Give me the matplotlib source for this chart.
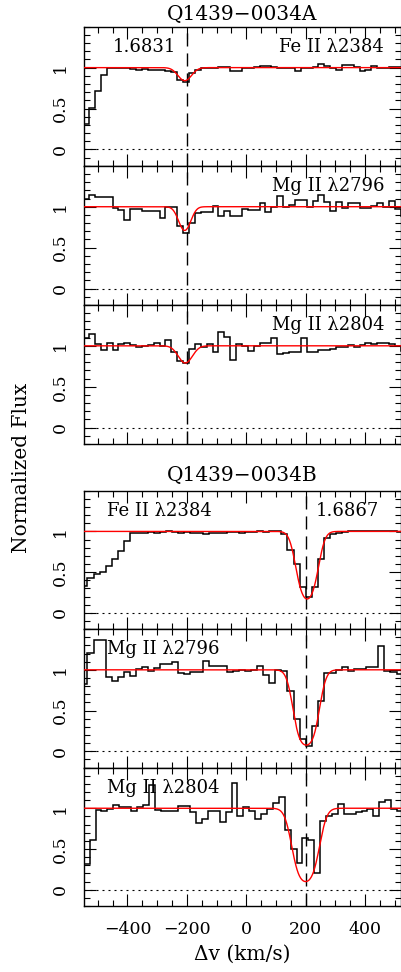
import numpy as np
import matplotlib
matplotlib.use("Agg")
import matplotlib.pyplot as plt
from matplotlib.ticker import MultipleLocator, FixedLocator, FixedFormatter

plt.rcParams['font.family'] = ['DejaVu Serif']

# ---------------------------------------------------------------------------
# Spectra: velocity pixel edges (km/s) and normalized flux per pixel
# ---------------------------------------------------------------------------
vel_edges_a = [-549.0, -529.2, -509.4, -489.6, -469.8, -450.0, -430.2, -410.4,
               -390.6, -370.8, -351.0, -331.2, -311.4, -291.6, -271.8, -252.0,
               -232.2, -212.4, -192.6, -172.8, -153.0, -133.2, -113.4, -93.6,
               -73.8, -54.0, -34.2, -14.4, 5.4, 25.2, 45.0, 64.8, 84.6, 104.4,
               124.2, 144.0, 163.8, 183.6, 203.4, 223.2, 243.0, 262.8, 282.6,
               302.4, 322.2, 342.0, 361.8, 381.6, 401.4, 421.2, 441.0, 460.8,
               480.6, 500.4, 520.2, 540.0]

vel_edges_b = [-554.8, -534.4, -514.0, -493.6, -473.2, -452.8, -432.4, -412.0,
               -391.6, -371.2, -350.8, -330.4, -310.0, -289.6, -269.2, -248.8,
               -228.4, -208.0, -187.6, -167.2, -146.8, -126.4, -106.0, -85.6,
               -65.2, -44.8, -24.4, -4.0, 16.4, 36.8, 57.2, 77.6, 98.0, 118.4,
               138.8, 159.2, 179.6, 200.0, 220.4, 240.8, 261.2, 281.6, 302.0,
               322.4, 342.8, 363.2, 383.6, 404.0, 424.4, 444.8, 465.2, 485.6,
               506.0, 526.4]

vel_edges_b_mg2804 = [-550.0, -527.1, -507.2, -487.3, -467.4, -447.5, -427.6,
                      -407.7, -387.8, -367.9, -348.0, -328.1, -308.2, -288.3,
                      -268.4, -248.5, -228.6, -208.7, -188.8, -168.9, -149.0,
                      -129.1, -109.2, -89.3, -69.4, -49.5, -29.6, -9.7, 10.2,
                      30.1, 50.0, 69.9, 89.8, 109.7, 129.6, 149.5, 169.4, 189.3,
                      209.2, 229.1, 249.0, 268.9, 288.8, 308.7, 328.6, 348.5,
                      368.4, 388.3, 408.2, 428.1, 448.0, 467.9, 487.8, 507.7,
                      527.6]

flux_a_fe2384 = [0.31, 0.51, 0.72, 0.91, 0.99, 0.99, 1.00, 0.99, 0.98, 0.97,
                 0.98, 0.97, 0.97, 0.97, 0.96, 0.95, 0.85, 0.83, 0.93, 0.97,
                 0.99, 1.00, 1.00, 1.01, 1.01, 0.96, 0.96, 1.00, 1.00, 1.01,
                 1.02, 1.02, 1.01, 1.00, 1.00, 0.99, 0.96, 0.99, 1.00, 1.01,
                 1.04, 1.02, 0.99, 0.97, 1.03, 1.03, 1.01, 0.96, 0.97, 1.02,
                 0.99, 1.00, 1.01, 1.01, 1.00]

flux_a_mg2796 = [1.10, 1.14, 1.12, 1.12, 1.12, 0.98, 0.96, 0.84, 0.97, 0.97,
                 0.95, 0.95, 0.95, 0.86, 1.00, 1.00, 0.77, 0.68, 0.80, 0.92,
                 0.93, 0.94, 1.01, 0.89, 0.95, 0.89, 0.89, 0.97, 0.96, 0.96,
                 1.05, 0.94, 1.00, 1.13, 1.00, 1.02, 1.08, 1.08, 1.00, 1.07,
                 1.14, 1.06, 0.95, 1.06, 0.98, 1.04, 1.04, 0.98, 0.98, 1.01,
                 1.04, 1.00, 1.07, 0.97, 0.89]

flux_a_mg2804 = [1.10, 1.14, 1.02, 0.95, 1.04, 0.95, 1.02, 1.03, 1.01, 0.98,
                 1.00, 1.01, 1.03, 1.00, 1.07, 0.93, 0.82, 0.79, 0.96, 1.02,
                 0.98, 1.02, 0.93, 1.17, 1.11, 0.83, 1.02, 1.00, 0.94, 1.00,
                 1.04, 1.04, 1.09, 0.90, 0.91, 0.92, 0.92, 1.10, 0.92, 0.93,
                 0.95, 0.95, 0.96, 0.98, 0.98, 1.01, 0.99, 1.01, 1.04, 1.02,
                 1.04, 1.03, 1.02, 1.00, 0.94]

flux_b_fe2384 = [0.33, 0.43, 0.48, 0.50, 0.58, 0.66, 0.76, 0.88, 0.98, 0.98,
                 0.98, 0.99, 0.98, 0.99, 1.01, 0.99, 0.98, 0.99, 0.98, 0.98,
                 0.97, 0.98, 0.98, 0.98, 0.99, 0.99, 0.98, 0.99, 0.99, 1.00,
                 0.99, 1.00, 1.00, 0.97, 0.77, 0.60, 0.32, 0.19, 0.32, 0.66,
                 0.92, 0.97, 0.98, 0.99, 1.00, 1.01, 1.00, 1.00, 1.00, 1.01,
                 1.00, 1.01, 0.99]

flux_b_mg2796 = [0.82, 1.21, 1.36, 1.36, 0.91, 0.86, 0.91, 0.97, 0.93, 1.01,
                 1.04, 0.99, 1.02, 1.07, 1.07, 1.09, 0.96, 0.95, 0.97, 0.97,
                 1.11, 1.05, 1.05, 1.05, 0.97, 0.99, 1.00, 0.99, 1.00, 1.05,
                 0.94, 0.84, 1.00, 0.98, 0.74, 0.39, 0.15, 0.07, 0.31, 0.62,
                 0.96, 0.96, 1.00, 1.03, 0.99, 1.01, 1.01, 1.03, 1.04, 1.29,
                 0.99, 0.97, 0.95]

flux_b_mg2804 = [0.31, 0.61, 0.98, 0.96, 0.99, 1.04, 1.01, 1.01, 0.97, 1.02,
                 1.04, 1.28, 0.98, 0.96, 0.97, 0.97, 1.03, 1.03, 0.95, 0.82,
                 0.87, 0.96, 0.96, 0.83, 0.95, 1.31, 0.91, 1.02, 0.97, 0.87,
                 0.93, 0.99, 1.07, 1.14, 0.73, 0.50, 0.33, 0.63, 0.61, 0.21,
                 0.84, 0.90, 0.93, 1.05, 0.93, 0.93, 0.95, 0.96, 0.99, 0.91,
                 1.08, 1.10, 0.99, 0.97]

# Single-component absorption fits: centre (km/s), central flux, Doppler b (km/s)
fit_center = [-207, -207, -205, 205, 202, 200]
fit_min_flux = [0.84, 0.71, 0.79, 0.17, 0.075, 0.10]
fit_b = [31, 27, 32, 36, 38, 41]

line_labels = ["Fe II λ2384", "Mg II λ2796", "Mg II λ2804",
               "Fe II λ2384", "Mg II λ2796", "Mg II λ2804"]
system_names = ["Q1439−0034A", "Q1439−0034B"]
system_redshifts = ["1.6831", "1.6867"]
system_velocity = [-200, 200]

panel_edges = [vel_edges_a, vel_edges_a, vel_edges_a,
               vel_edges_b, vel_edges_b, vel_edges_b_mg2804]
panel_flux = [flux_a_fe2384, flux_a_mg2796, flux_a_mg2804,
              flux_b_fe2384, flux_b_mg2796, flux_b_mg2804]

# ---------------------------------------------------------------------------
# Figure layout: two stacks of three panels
# ---------------------------------------------------------------------------
W, H = 402, 972
fig = plt.figure(figsize=(W / 100, H / 100), dpi=100)

left_px, width_px = 84, 317
tops_px = [26.7, 165.8, 304.9, 490.7, 629.1, 767.5]
heights_px = [139.1, 139.1, 139.1, 138.4, 138.4, 138.5]

xlim = (-546, 521)
ylim = (-0.2, 1.5)
v_model = np.linspace(xlim[0], xlim[1], 800)

axes = []
for i in range(6):
    top = tops_px[i]
    h = heights_px[i]
    ax = fig.add_axes([left_px / W, 1 - (top + h) / H, width_px / W, h / H])
    axes.append(ax)
    system = 0 if i < 3 else 1

    # observed spectrum
    ax.stairs(panel_flux[i], panel_edges[i], baseline=None,
              color='black', lw=1.1, zorder=3)

    # fitted profile
    tau0 = -np.log(fit_min_flux[i])
    model = np.exp(-tau0 * np.exp(-((v_model - fit_center[i]) / fit_b[i]) ** 2))
    ax.plot(v_model, model, color='#ff0000', lw=1.0, zorder=4)

    # zero level and system velocity
    ax.axhline(0, color='black', lw=0.8, ls=(0, (1.8, 3.6)), zorder=2)
    ax.axvline(system_velocity[system], color='black', lw=1.0,
               ls=(0, (9.4, 5.0)), zorder=2)

    ax.set_xlim(*xlim)
    ax.set_ylim(*ylim)

    ax.xaxis.set_major_locator(MultipleLocator(200))
    ax.xaxis.set_minor_locator(MultipleLocator(50))
    ax.yaxis.set_major_locator(FixedLocator([0, 0.5, 1]))
    ax.yaxis.set_major_formatter(FixedFormatter(["0", "0.5", "1"]))
    ax.yaxis.set_minor_locator(MultipleLocator(0.1))

    ax.tick_params(which='both', direction='in', top=True, right=True,
                   width=0.8, colors='black', labelsize=12.5, pad=11)
    ax.tick_params(which='major', length=8.5)
    ax.tick_params(which='minor', length=4.5)
    ax.tick_params(axis='y', labelrotation=90)
    if i != 5:
        ax.tick_params(labelbottom=False)
    for lab in ax.get_yticklabels():
        lab.set_va('center')

    for sp in ax.spines.values():
        sp.set_linewidth(1.0)
        sp.set_color('black')

    # line identification
    if system == 0:
        ax.text(464, 1.25, line_labels[i], ha='right', va='center',
                fontsize=13, zorder=5)
    else:
        ax.text(-468, 1.25, line_labels[i], ha='left', va='center',
                fontsize=13, zorder=5)

# redshift labels and system titles
axes[0].text(-237, 1.25, system_redshifts[0], ha='right', va='center', fontsize=13)
axes[3].text(235, 1.25, system_redshifts[1], ha='left', va='center', fontsize=13)
axes[0].set_title(system_names[0], fontsize=14.5, pad=5)
axes[3].set_title(system_names[1], fontsize=14.5, pad=7)

axes[5].set_xlabel("Δv (km/s)", fontsize=14.5, labelpad=5)
fig.text(22 / W, 1 - 468 / H, "Normalized Flux", rotation=90,
         ha='center', va='center', fontsize=14.5)

fig.savefig("out.png", dpi=100, facecolor='white')
